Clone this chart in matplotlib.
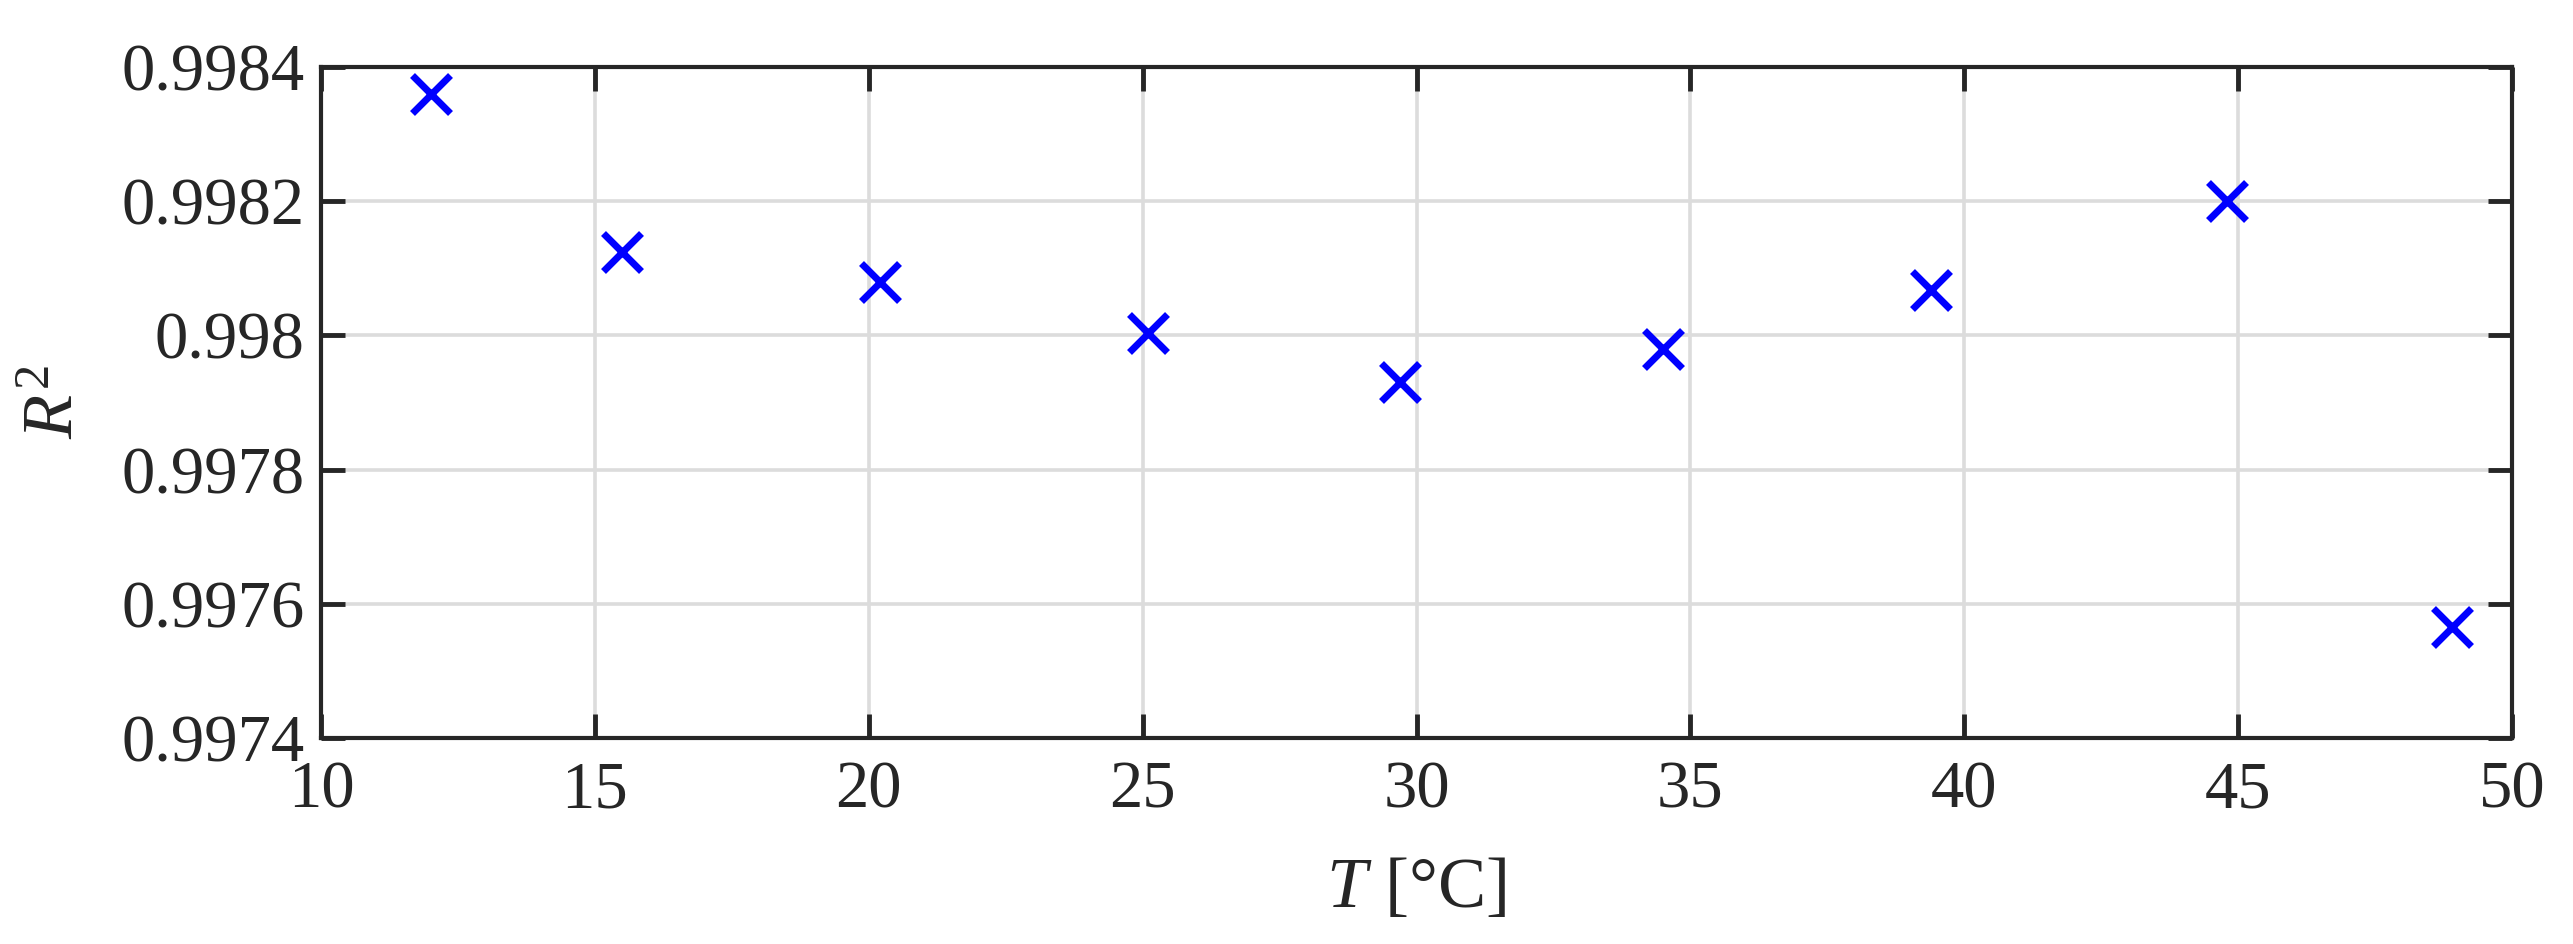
import numpy as np
import matplotlib
matplotlib.use('Agg')
import matplotlib.pyplot as plt

# temperature [C] and R^2 values
temps = [12.0, 15.5, 20.2, 25.1, 29.7, 34.5, 39.4, 44.8, 48.9]
r2 = [0.99836, 0.998125, 0.99808, 0.998003, 0.99793, 0.99798, 0.998067, 0.998201, 0.997566]

xticks = [10, 15, 20, 25, 30, 35, 40, 45, 50]
yticks = [0.9974, 0.9976, 0.9978, 0.998, 0.9982, 0.9984]
ytick_labels = ['0.9974', '0.9976', '0.9978', '0.998', '0.9982', '0.9984']

plt.rcParams['font.family'] = 'Liberation Serif'
plt.rcParams['mathtext.fontset'] = 'custom'
plt.rcParams['mathtext.rm'] = 'Liberation Serif'
plt.rcParams['mathtext.it'] = 'Liberation Serif:italic'

dark = '#262626'
fig = plt.figure(figsize=(25.73, 9.44), dpi=100)
ax = fig.add_axes([321/2573, 1-738/944, (2512-321)/2573, (738-67)/944])

ax.plot(temps, r2, 'x', color='#0000ff', markersize=28, markeredgewidth=5, zorder=3)

ax.set_xlim(10, 50)
ax.set_ylim(0.9974, 0.9984)
ax.set_xticks(xticks)
ax.set_yticks(yticks)
ax.set_yticklabels(ytick_labels)
ax.grid(True, color='#dcdcdc', linewidth=2.6, zorder=0)
ax.set_axisbelow(True)

for s in ax.spines.values():
    s.set_linewidth(3)
    s.set_color(dark)
ax.tick_params(direction='in', length=17, width=3.5, color=dark, labelcolor=dark,
               labelsize=48, top=True, right=True, pad=12)
ax.tick_params(axis='x', pad=16)

ax.set_xlabel(r'$T$ [°C]', fontsize=52, color=dark, labelpad=26)
ax.set_ylabel(r'$R^2$', fontsize=52, color=dark, labelpad=24)

fig.savefig('out.png', dpi=100)
